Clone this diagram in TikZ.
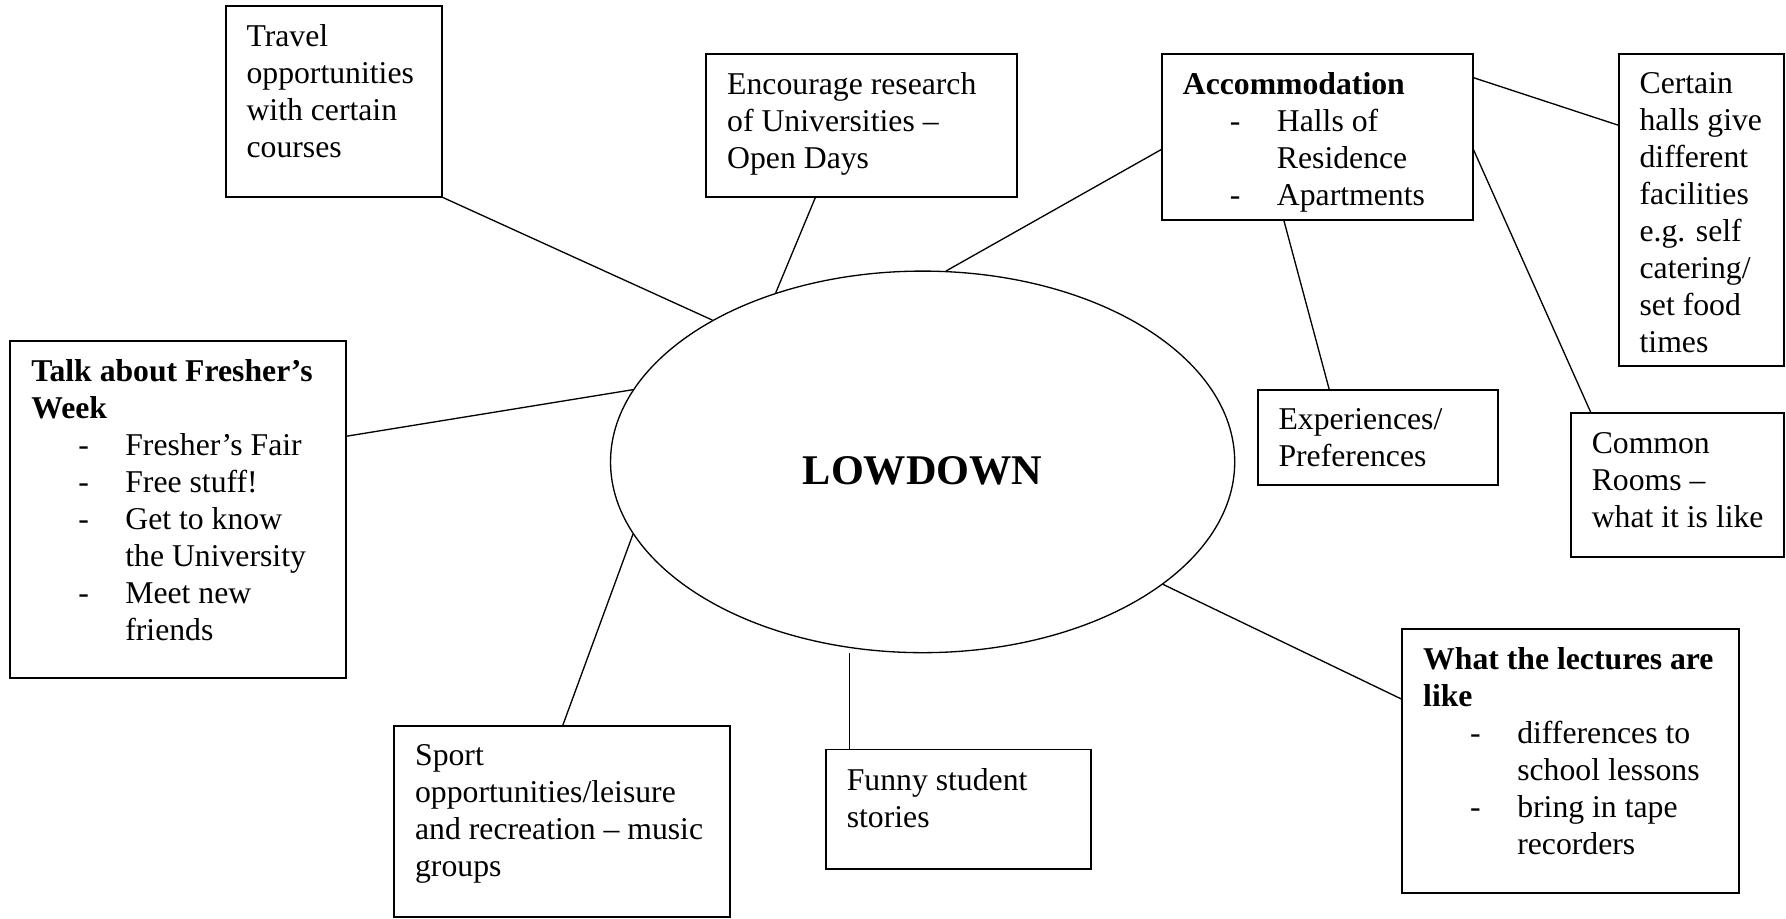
\documentclass[tikz,border=0pt]{standalone}
\usepackage{fontspec}
\setmainfont{Liberation Serif}
\usetikzlibrary{positioning,shapes.geometric}

\newlength{\du}
\setlength{\du}{0.431pt}
\newcommand{\dashitem}[1]{\hspace*{17.8pt}\makebox[17.8pt][l]{-}#1}
\newcommand{\dashcont}[1]{\hspace*{35.6pt}#1}

\tikzset{
  mapbox/.style={draw, rectangle, line width=0.75pt, anchor=north west, inner sep=0pt, outer sep=0pt},
  maptext/.style={align=left, inner sep=0pt, font=\fontsize{12pt}{14pt}\selectfont},
  maplink/.style={line width=0.5pt},
}

\begin{document}
\begin{tikzpicture}
\useasboundingbox (0,0) rectangle (1568\du,-806\du);
% centre
\node[draw, ellipse, line width=0.5pt, minimum width=548\du, minimum height=335\du, inner sep=0pt] (lowdown) at (810\du,-405.5\du) {};
\node[font=\fontsize{16pt}{19pt}\selectfont\bfseries] (lowdown-t) at ([yshift=-8\du]lowdown.center) {LOWDOWN};
% boxes
\node[mapbox, minimum width=190\du, minimum height=168\du] (travel) at (198\du,-5\du) {};
\node[mapbox, minimum width=273\du, minimum height=126\du] (encourage) at (620\du,-47\du) {};
\node[mapbox, minimum width=273\du, minimum height=146\du] (accom) at (1020\du,-47\du) {};
\node[mapbox, minimum width=145\du, minimum height=274\du] (certain) at (1421\du,-47\du) {};
\node[mapbox, minimum width=211\du, minimum height=84\du] (experience) at (1104\du,-342\du) {};
\node[mapbox, minimum width=187\du, minimum height=126\du] (common) at (1379\du,-363\du) {};
\node[mapbox, minimum width=295\du, minimum height=296\du] (talk) at (9\du,-299\du) {};
\node[mapbox, minimum width=295\du, minimum height=168\du] (sport) at (346\du,-637\du) {};
\node[mapbox, minimum width=233\du, minimum height=105\du] (funny) at (725\du,-658\du) {};
\node[mapbox, minimum width=296\du, minimum height=232\du] (lectures) at (1231\du,-552\du) {};
% texts
\node[maptext, below right=16\du and 18\du of travel.north west] (travel-t) {Travel\\opportunities\\with certain\\courses};
\node[maptext, below right=16\du and 18\du of encourage.north west] (encourage-t) {Encourage research\\of Universities --\\Open Days};
\node[maptext, below right=16\du and 18\du of accom.north west] (accom-t) {\textbf{Accommodation}\\\dashitem{Halls of}\\\dashcont{Residence}\\\dashitem{Apartments}};
\node[maptext, below right=16\du and 18\du of certain.north west] (certain-t) {Certain\\halls give\\different\\facilities\\e.g. self\\catering/\\set food\\times};
\node[maptext, below right=16\du and 18\du of experience.north west] (experience-t) {Experiences/\\Preferences};
\node[maptext, below right=16\du and 18\du of common.north west] (common-t) {Common\\Rooms --\\what it is like};
\node[maptext, below right=16\du and 18\du of talk.north west] (talk-t) {\textbf{Talk about Fresher's}\\\textbf{Week}\\\dashitem{Fresher's Fair}\\\dashitem{Free stuff!}\\\dashitem{Get to know}\\\dashcont{the University}\\\dashitem{Meet new}\\\dashcont{friends}};
\node[maptext, below right=16\du and 18\du of sport.north west] (sport-t) {Sport\\opportunities/leisure\\and recreation -- music\\groups};
\node[maptext, below right=16\du and 18\du of funny.north west] (funny-t) {Funny student\\stories};
\node[maptext, below right=16\du and 18\du of lectures.north west] (lectures-t) {\textbf{What the lectures are}\\\textbf{like}\\\dashitem{differences to}\\\dashcont{school lessons}\\\dashitem{bring in tape}\\\dashcont{recorders}};
% links
\coordinate (funny-top) at ([xshift=21\du]funny.north west);
\draw[maplink] (travel.south east) -- (lowdown.146);
\draw[maplink] ([xshift=96\du]encourage.south west) -- (lowdown.131);
\draw[maplink] ([yshift=-84\du]accom.north west) -- (lowdown.83);
\draw[maplink] ([yshift=-21\du]accom.north east) -- ([yshift=-63\du]certain.north west);
\draw[maplink] ([xshift=107\du]accom.south west) -- ([xshift=63\du]experience.north west);
\draw[maplink] ([yshift=-83\du]accom.north east) -- ([xshift=18\du]common.north west);
\draw[maplink] ([yshift=-84\du]talk.north east) -- (lowdown.166);
\draw[maplink] ([xshift=148\du]sport.north west) -- (lowdown.194);
\draw[maplink] (funny-top) -- (funny-top |- lowdown.south);
\draw[maplink] ([yshift=-62\du]lectures.north west) -- (lowdown.333);
\end{tikzpicture}
\end{document}
